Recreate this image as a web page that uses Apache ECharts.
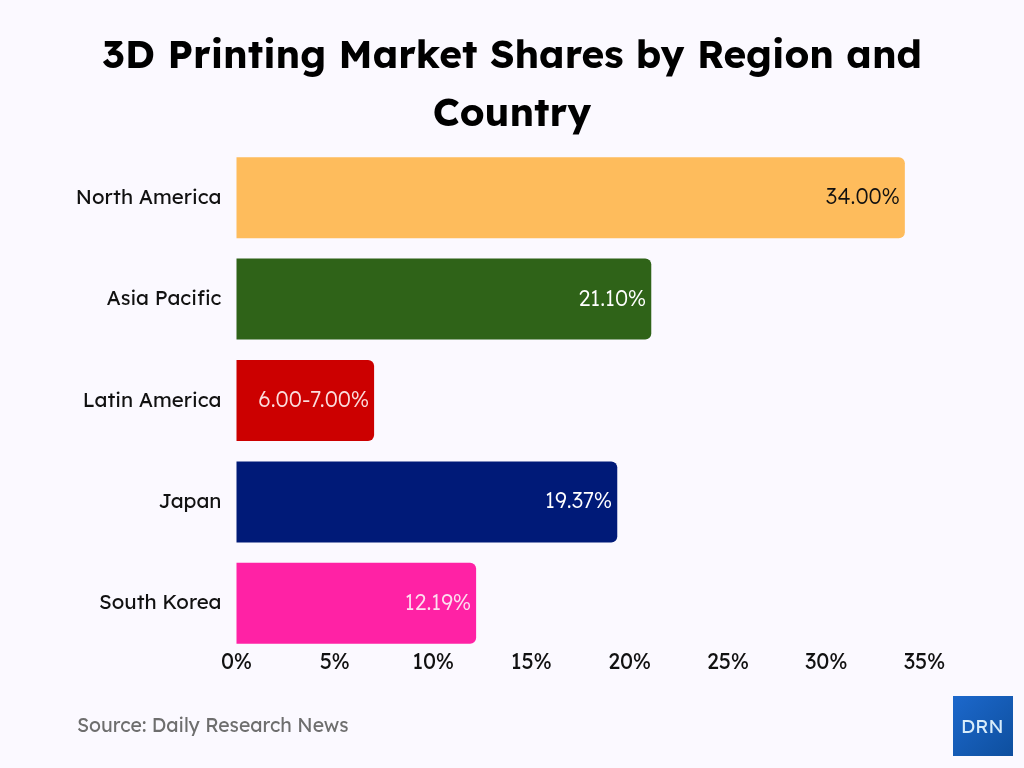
<!DOCTYPE html>
<html>
<head>
<meta charset="utf-8">
<title>3D Printing Market Shares</title>
<style>
html, body { margin: 0; padding: 0; width: 100%; height: 100%; background: #fbf9ff; }
#main { width: 1024px; height: 768px; }
</style>
<script src="https://cdn.jsdelivr.net/npm/echarts@6/dist/echarts.min.js"></script>
</head>
<body>
<div id="main"></div>
<script>
var categories = ['North America', 'Asia Pacific', 'Latin America', 'Japan', 'South Korea'];
var shares = [34, 21.1, 7, 19.37, 12.19];
var shareLabels = ['34.00%', '21.10%', '6.00-7.00%', '19.37%', '12.19%'];
var barColors = ['#febc5c', '#2f6318', '#cc0000', '#001a78', '#ff22a5'];
var labelColors = ['#111', '#fff', '#fbdcdc', '#fff', '#fde0f0'];
var fontName = 'Lexend, Inter, "Noto Sans", sans-serif';

var chart = echarts.init(document.getElementById('main'), null, { renderer: 'canvas' });
chart.setOption({
	animation: false,
	backgroundColor: '#fbf9ff',
	title: {
		text: '3D Printing Market Shares by Region and\nCountry',
		left: 'center',
		top: 22,
		textStyle: { fontFamily: fontName, fontSize: 38.8, fontWeight: 700, color: '#000', lineHeight: 58 }
	},
	grid: { left: 236.5, top: 147, width: 688, height: 507 },
	xAxis: {
		type: 'value',
		min: 0,
		max: 35,
		interval: 5,
		axisLine: { show: false },
		axisTick: { show: false },
		splitLine: { show: false },
		axisLabel: {
			color: '#111',
			fontFamily: fontName,
			fontSize: 21.5,
			fontWeight: 400,
			margin: -2,
			formatter: '{value}%'
		}
	},
	yAxis: {
		type: 'category',
		inverse: true,
		data: categories,
		axisLine: { show: false },
		axisTick: { show: false },
		axisLabel: { color: '#111', fontFamily: fontName, fontSize: 20.4, fontWeight: 400, margin: 15, padding: [0, 0, 6, 0] }
	},
	series: [{
		type: 'bar',
		barWidth: 81,
		data: shares.map(function (v, i) {
			return {
				value: v,
				itemStyle: { color: barColors[i], borderRadius: [0, 6, 6, 0] },
				label: { color: labelColors[i] }
			};
		}),
		label: {
			show: true,
			position: 'insideRight',
			distance: 5,
			fontFamily: fontName,
			fontSize: 21.5,
			fontWeight: 300,
			formatter: function (p) { return shareLabels[p.dataIndex]; }
		}
	}],
	graphic: [
		{ type: 'text', left: 77, top: 717, style: { text: 'Source: Daily Research News', fontFamily: fontName, fontSize: 19.4, fontWeight: 400, fill: '#6e6e6e' } },
		{
			type: 'rect',
			shape: { x: 953, y: 696, width: 60, height: 60 },
			style: {
				fill: new echarts.graphic.LinearGradient(0, 0, 1, 1, [
					{ offset: 0, color: '#1c68cc' },
					{ offset: 1, color: '#0e4f9e' }
				])
			}
		},
		{ type: 'text', left: 961, top: 718, style: { text: 'DRN', fontFamily: fontName, fontSize: 19, fontWeight: 400, fill: '#d8ecfa' } }
	]
});
</script>
</body>
</html>
